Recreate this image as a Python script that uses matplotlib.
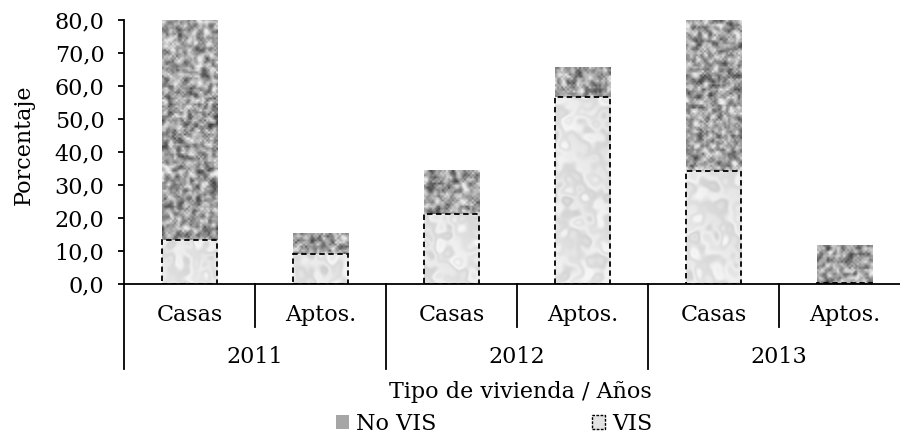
import numpy as np
import matplotlib
matplotlib.use("Agg")
import matplotlib.pyplot as plt
from matplotlib.patches import Patch
from matplotlib.transforms import blended_transform_factory

plt.rcParams['font.family'] = ['DejaVu Serif']

# ---- data ----
years = ["2011", "2012", "2013"]
types = ["Casas", "Aptos.", "Casas", "Aptos.", "Casas", "Aptos."]
vis = [13.3, 9.2, 21.1, 56.7, 34.3, 0.4]
no_vis = [66.7, 6.2, 13.1, 8.8, 45.7, 11.4]
yticks = [0, 10, 20, 30, 40, 50, 60, 70, 80]

FS = 16

fig = plt.figure(figsize=(9, 4.36), dpi=100)
ax = fig.add_axes([124/900, (436-284)/436, 786/900, 264/436])

x = np.arange(len(types)) + 0.5
bw = 0.42

b_vis = ax.bar(x, vis, bw, facecolor='none', edgecolor='black',
               linewidth=1.3, linestyle=(0, (3, 2)), zorder=4)
b_nv = ax.bar(x, no_vis, bw, bottom=vis, facecolor='none', edgecolor='none',
              linewidth=0, zorder=1)

# ---- textures (decorative fill only) ----
def hash_noise(h, w, seed):
    yy, xx = np.mgrid[0:h, 0:w]
    v = np.sin(xx * 12.9898 + yy * 78.233 + seed * 37.719) * 43758.5453
    return v - np.floor(v)

def blur(a, n):
    for _ in range(n):
        a = (a + np.roll(a, 1, 0) + np.roll(a, -1, 0) + np.roll(a, 1, 1) + np.roll(a, -1, 1)) / 5.0
    return a

def granite(h, w, seed):
    h2, w2 = max(2, h // 2), max(2, w // 2)
    n = blur(hash_noise(h2, w2, seed), 1)
    n = (n - n.mean()) / (n.std() + 1e-9)
    return np.clip(0.63 + 0.15 * n, 0.25, 0.93)

def marble(h, w, seed):
    n = blur(hash_noise(h, w, seed), 30)
    n = (n - n.mean()) / (n.std() + 1e-9)
    yy, xx = np.mgrid[0:h, 0:w]
    s = np.sin((xx * 1.0 - yy * 0.8) / 7.0 + 2.0 * n)
    g = 0.895 + 0.035 * s + 0.02 * n
    return np.clip(g, 0.75, 0.96)

px_per_unit = 264 / 80.0
for i, (pv, pn) in enumerate(zip(b_vis.patches, b_nv.patches)):
    for p, fn, sd in ((pv, marble, i + 1), (pn, granite, i + 11)):
        hgt = p.get_height()
        if hgt <= 0:
            continue
        rows = max(2, int(round(hgt * px_per_unit)))
        img = fn(rows, 56, sd)
        ax.imshow(img, cmap='gray', vmin=0, vmax=1, aspect='auto',
                  interpolation='bilinear',
                  extent=(p.get_x(), p.get_x() + p.get_width(),
                          p.get_y(), p.get_y() + hgt),
                  zorder=2)

ax.set_xlim(0, 6)
ax.set_ylim(0, 80)

# ---- axes styling ----
for s in ['top', 'right']:
    ax.spines[s].set_visible(False)
for s in ['left', 'bottom']:
    ax.spines[s].set_linewidth(1.3)
ax.set_yticks(yticks)
ax.set_yticklabels([f"{v:.1f}".replace('.', ',') for v in yticks])
ax.tick_params(axis='y', direction='out', length=4, width=1.3, pad=10, labelsize=FS)
ax.set_xticks([])
ax.set_ylabel("Porcentaje", fontsize=FS)
ax.yaxis.set_label_coords(-(124 - 35) / 786, (284 - 145) / 264)

tr = blended_transform_factory(ax.transData, ax.transAxes)
for k in range(7):
    yend = -85/264 if k % 2 == 0 else -43/264
    ax.plot([k, k], [0, yend], transform=tr, color='black', lw=1.3, clip_on=False)
for xi, t in zip(x, types):
    ax.text(xi, -31/264, t, transform=tr, ha='center', va='center', fontsize=FS)
for j, yv in enumerate(years):
    ax.text(2 * j + 1, -73/264, yv, transform=tr, ha='center', va='center', fontsize=FS)

fig.text(520/900, 1 - 392/436, "Tipo de vivienda / Años", ha='center', va='center', fontsize=FS)

handles = [Patch(facecolor='#a6a6a6', edgecolor='none', label='No VIS'),
           Patch(facecolor='#e2e2e2', edgecolor='black', linestyle=(0, (2, 1)),
                 linewidth=1.0, label='VIS')]
fig.legend(handles=handles, loc='center', bbox_to_anchor=(494/900, 1 - 424/436),
           ncol=2, frameon=False, fontsize=FS, handlelength=0.6, handleheight=0.6,
           handletextpad=0.3, columnspacing=7.0, borderpad=0, borderaxespad=0)

fig.savefig("out.png", dpi=100)
